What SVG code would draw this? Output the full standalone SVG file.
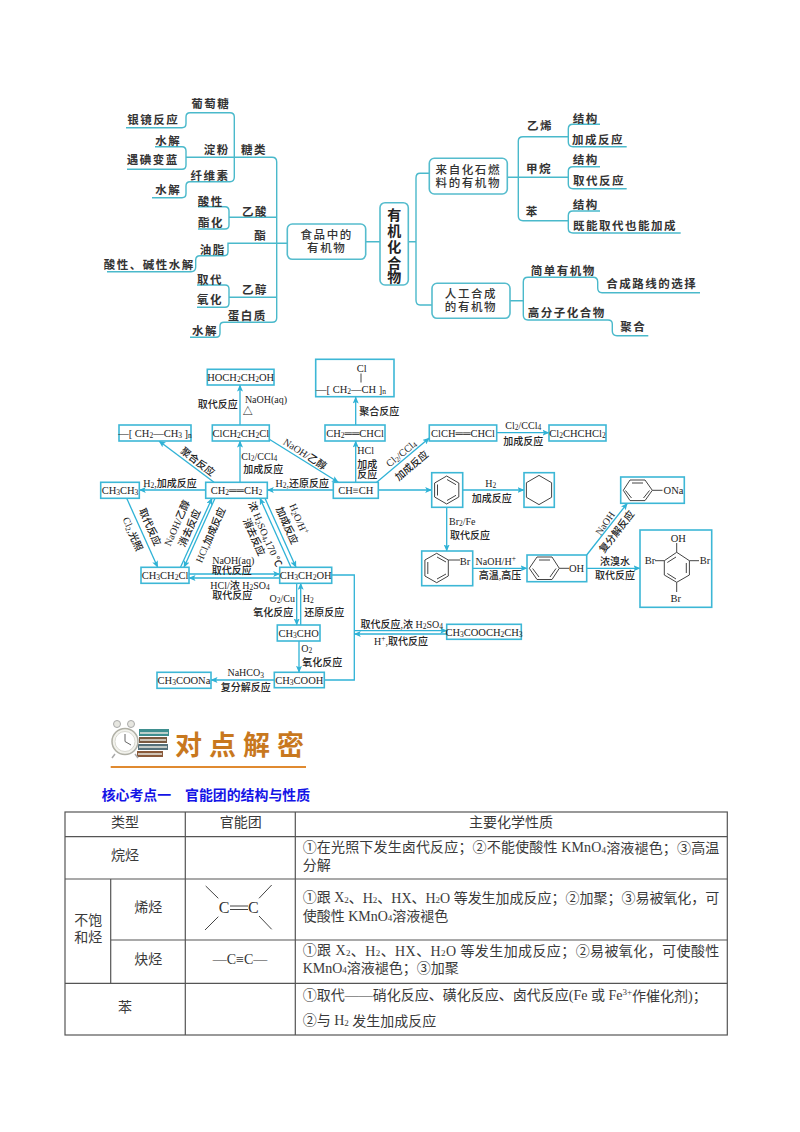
<svg xmlns="http://www.w3.org/2000/svg" width="800" height="1132" viewBox="0 0 800 1132">
<defs>
<marker id="a" markerUnits="userSpaceOnUse" markerWidth="7" markerHeight="6" refX="6.5" refY="3" orient="auto"><path d="M0 0L7 3L0 6L1.5 3z" fill="#2fb2d6"/></marker>
</defs>
<style>
text{font-family:"Liberation Serif","Noto Sans CJK SC",serif;fill:#222;dominant-baseline:central}
.c{text-anchor:middle}
.m{font-family:"Noto Sans CJK SC",sans-serif;font-size:11.5px;font-weight:700;letter-spacing:1.5px;text-anchor:middle;fill:#333}
.n{font-family:"Liberation Serif","Noto Sans CJK SC",sans-serif;font-size:11.5px;font-weight:500;letter-spacing:1.6px;text-anchor:middle;fill:#333}
.t{font-family:"Liberation Sans","Noto Sans CJK SC",sans-serif;font-size:14px;font-weight:700;text-anchor:middle;fill:#222}
.mm{fill:none;stroke:#4ab9cb;stroke-width:1.4}
.nb{fill:#fff;stroke:#55bccd;stroke-width:1.6}
.f{font-size:10.5px;text-anchor:middle}
.l{font-size:10px;text-anchor:middle;font-weight:500}
.b{fill:#fff;stroke:#3db7d6;stroke-width:1.6}
.r{fill:none;stroke:#2fb2d6;stroke-width:1.3;marker-end:url(#a)}
.p{fill:none;stroke:#2fb2d6;stroke-width:1.3}
.g{fill:none;stroke:#333;stroke-width:.9}
.s{font-size:7.5px}
.u{font-size:9px}
.h{font-size:14px;fill:#3a3a3a;text-anchor:middle}
.q{font-size:14px;fill:#3a3a3a}
.o{fill:none;stroke:#444;stroke-width:1}
.tb{fill:none;stroke:#555;stroke-width:1.2}
</style>

<g id="mindmap-connectors">
<path class="mm" d="M126 127.7H182Q186 127.7 186 123.5V117Q186 112.7 190 112.7H230Q234.3 112.7 234.3 117V177Q234.3 181.7 230 181.7H190Q186 181.7 186 186V193.5Q186 197.7 182 197.7H152"/>
<path class="mm" d="M155 146.7H182Q186 146.7 186 151V165Q186 169.3 182 169.3H127"/>
<path class="mm" d="M186 157.3H272Q276.7 157.3 276.7 162V318Q276.7 322.3 272 322.3H224Q220 322.3 220 326V333Q220 337.3 216 337.3H190"/>
<path class="mm" d="M198 206.7H225Q229 206.7 229 211V225Q229 229 225 229H198M229 217.3H276.7"/>
<path class="mm" d="M287.3 243.3H228V252Q228 255.7 224 255.7H200Q195.7 255.7 195.7 260V267Q195.7 271.7 191 271.7H107"/>
<path class="mm" d="M197 285H225Q229 285 229 289V303Q229 307.3 225 307.3H197M229 297.3H276.7"/>
<path class="mm" d="M365.7 241.7H381.7M408.3 241.7H416M429.3 173.3H420Q416 173.3 416 178V300Q416 305 420 305H432"/>
<path class="mm" d="M507.3 177.3H568.3M568 136.7H523Q518.3 136.7 518.3 141V216Q518.3 220.7 523 220.7H568.3"/>
<path class="mm" d="M600 124.3H573Q568.3 124.3 568.3 129V142Q568.3 146.7 573 146.7H626.7"/>
<path class="mm" d="M600 166.7H573Q568.3 166.7 568.3 171V184Q568.3 188.7 573 188.7H626.7"/>
<path class="mm" d="M600 211H573Q568.3 211 568.3 215.5V228.5Q568.3 233 573 233H680.7"/>
<path class="mm" d="M510 300.7H523.3M523.3 282Q523.3 277.3 528 277.3H593Q597.7 277.3 597.7 282V288Q597.7 292.7 602 292.7H700M523.3 282V315Q523.3 320 528 320H608Q612.3 320 612.3 324V331Q612.3 335.7 617 335.7H648.3"/>
</g>

<g id="mindmap-labels">
<text class="m" x="210.7" y="103.3">葡萄糖</text>
<text class="m" x="153.3" y="119">银镜反应</text>
<text class="m" x="168.3" y="140">水解</text>
<text class="m" x="216.7" y="149">淀粉</text>
<text class="m" x="254" y="149">糖类</text>
<text class="m" x="152.7" y="159.3">遇碘变蓝</text>
<text class="m" x="210" y="175">纤维素</text>
<text class="m" x="168.3" y="189">水解</text>
<text class="m" x="210.7" y="201">酸性</text>
<text class="m" x="255" y="210.7">乙酸</text>
<text class="m" x="211" y="221.7">酯化</text>
<text class="m" x="260.7" y="235">酯</text>
<text class="m" x="212.7" y="249">油脂</text>
<text class="m" x="149.3" y="264">酸性、碱性水解</text>
<text class="m" x="210" y="279">取代</text>
<text class="m" x="210" y="299.3">氧化</text>
<text class="m" x="255" y="289">乙醇</text>
<text class="m" x="247.3" y="315">蛋白质</text>
<text class="m" x="205" y="330">水解</text>
<text class="m" x="540" y="125">乙烯</text>
<text class="m" x="585.7" y="118.3">结构</text>
<text class="m" x="598" y="139.3">加成反应</text>
<text class="m" x="539" y="168">甲烷</text>
<text class="m" x="585.7" y="159.3">结构</text>
<text class="m" x="599" y="180">取代反应</text>
<text class="m" x="532.3" y="210.7">苯</text>
<text class="m" x="585.7" y="204">结构</text>
<text class="m" x="625" y="225">既能取代也能加成</text>
<text class="m" x="563.3" y="270">简单有机物</text>
<text class="m" x="651.7" y="282.7">合成路线的选择</text>
<text class="m" x="566.7" y="311.7">高分子化合物</text>
<text class="m" x="633.3" y="325.7">聚合</text>
</g>

<g id="node-food"><rect class="nb" x="287.3" y="224" width="78.4" height="35.3" rx="5"/><text class="n" x="326.7" y="235">食品中的</text><text class="n" x="326.7" y="248.3">有机物</text></g>
<g id="node-organic"><rect class="nb" x="380" y="202.7" width="28.3" height="82.3" rx="5"/><text class="t" x="394.3" y="215">有</text><text class="t" x="394.3" y="231">机</text><text class="t" x="394.3" y="247">化</text><text class="t" x="394.3" y="263">合</text><text class="t" x="394.3" y="277">物</text></g>
<g id="node-fossil"><rect class="nb" x="429.3" y="158.3" width="78" height="35.7" rx="5"/><text class="n" x="468.3" y="170">来自化石燃</text><text class="n" x="468.3" y="183.3">料的有机物</text></g>
<g id="node-synthetic"><rect class="nb" x="432" y="283.3" width="78" height="35" rx="5"/><text class="n" x="471" y="294">人工合成</text><text class="n" x="471" y="307.3">的有机物</text></g>

<g id="connectors">
<path class="r" d="M240 482.3V441"/>
<path class="r" d="M240 425V385"/>
<path class="r" d="M214 482.3L159 441"/>
<path class="r" d="M269.3 439.3L338.3 482.3"/>
<path class="r" d="M333.3 490H267.3"/>
<path class="r" d="M205.7 490H139.3"/>
<path class="r" d="M355.7 482.3V441"/>
<path class="r" d="M355.7 425V397"/>
<path class="r" d="M376.7 482.3L429.3 438"/>
<path class="r" d="M496.7 432.7H549"/>
<path class="r" d="M377.3 490H431.7"/>
<path class="r" d="M462.7 490H524"/>
<path class="r" d="M446.7 507.3V551"/>
<path class="r" d="M472.7 568.3H527"/>
<path class="r" d="M586.7 555L627.3 503.3"/>
<path class="r" d="M586.7 568.3H640"/>
<path class="r" d="M126.7 498.3L157.7 567.3"/>
<path class="r" d="M180.5 567.3L212 498.3"/>
<path class="r" d="M215 498.3L184 567.3"/>
<path class="r" d="M291 567.3L260 498.3"/>
<path class="r" d="M265 498.3L296 567.3"/>
<path class="r" d="M189 574H279.7"/>
<path class="r" d="M279.7 578H189"/>
<path class="r" d="M296.7 583.3V625"/>
<path class="r" d="M300.7 625V583.3"/>
<path class="r" d="M299 641V672.3"/>
<path class="r" d="M274.3 680H211"/>
<path class="p" d="M331.7 575H354.3V680H324.3"/>
<path class="r" d="M355 630.7H446.7"/>
<path class="r" d="M446.7 634H354.3"/>
</g>

<g id="node-hoch2ch2oh"><rect class="b" x="207.3" y="369.3" width="66.7" height="15.7"/><text class="f" x="240.7" y="377">HOCH<tspan class="s" dy="2">2</tspan><tspan dy="-2">CH</tspan><tspan class="s" dy="2">2</tspan><tspan dy="-2">OH</tspan></text></g>
<g id="node-pvc"><rect class="b" x="315.7" y="359.3" width="78.3" height="37.4"/><text class="f" x="361.7" y="368.3">Cl</text><path class="g" d="M361 373.5V382.5"/><text class="f" x="351" y="389.3">—[ CH<tspan class="s" dy="2">2</tspan><tspan dy="-2">—CH ]</tspan><tspan class="s" dy="2">n</tspan></text></g>
<g id="node-pe"><rect class="b" x="119" y="425" width="72" height="16"/><text class="f" x="155" y="433">—[ CH<tspan class="s" dy="2">2</tspan><tspan dy="-2">—CH</tspan><tspan class="s" dy="2">3</tspan><tspan dy="-2"> ]</tspan><tspan class="s" dy="2">n</tspan></text></g>
<g id="node-clch2ch2cl"><rect class="b" x="212.3" y="425" width="57" height="16"/><text class="f" x="240.8" y="433">ClCH<tspan class="s" dy="2">2</tspan><tspan dy="-2">CH</tspan><tspan class="s" dy="2">2</tspan><tspan dy="-2">Cl</tspan></text></g>
<g id="node-ch2chcl"><rect class="b" x="325" y="425" width="60" height="16"/><text class="f" x="355" y="433">CH<tspan class="s" dy="2">2</tspan><tspan dy="-2">══CHCl</tspan></text></g>
<g id="node-clchchcl"><rect class="b" x="429.3" y="425" width="67.4" height="16"/><text class="f" x="463" y="433">ClCH══CHCl</text></g>
<g id="node-cl2chchcl2"><rect class="b" x="549" y="425" width="57" height="16"/><text class="f" x="577.5" y="433">Cl<tspan class="s" dy="2">2</tspan><tspan dy="-2">CHCHCl</tspan><tspan class="s" dy="2">2</tspan></text></g>
<g id="node-ch3ch3"><rect class="b" x="100.7" y="482.3" width="38.6" height="16"/><text class="f" x="120" y="490.3">CH<tspan class="s" dy="2">3</tspan><tspan dy="-2">CH</tspan><tspan class="s" dy="2">3</tspan></text></g>
<g id="node-ch2ch2"><rect class="b" x="205.7" y="482.3" width="61.6" height="16"/><text class="f" x="236.5" y="490.3">CH<tspan class="s" dy="2">2</tspan><tspan dy="-2">══CH</tspan><tspan class="s" dy="2">2</tspan></text></g>
<g id="node-chch"><rect class="b" x="333.3" y="482.3" width="45" height="16"/><text class="f" x="355.8" y="490.3">CH≡CH</text></g>
<g id="node-benzene"><rect class="b" x="431.7" y="472.7" width="31" height="34.6"/><path class="o" d="M446.7 476L458.8 483V497L446.7 504L434.6 497V483zM447 479.5L456 484.7M437.5 484.5V495.5M447 500.5L456 495.3"/></g>
<g id="node-cyclohexane"><rect class="b" x="524" y="472.7" width="30.3" height="34.6"/><path class="o" d="M539 475.4L551.6 482.7V497.3L539 504.6L526.4 497.3V482.7z"/></g>
<g id="node-phona"><rect class="b" x="620.7" y="477" width="63.6" height="26.3"/><path class="o" d="M623.3 490.3L630 480H645L652.3 490.3L645 500.6H630zM632 483H643M649.5 490.5L643.5 498M631.5 498L625.5 490.5M652.3 490.3H662.5"/><text class="f" x="673.5" y="490">ONa</text></g>
<g id="node-phbr"><rect class="b" x="421.7" y="551" width="51" height="34.7"/><path class="o" d="M436.7 553.3L448.3 560V576L436.7 582.7L424.9 576V560zM437 557L446 562M427.8 562V574M437 579L446 574M448.3 560H460"/><text class="f" x="465" y="561">Br</text></g>
<g id="node-phoh"><rect class="b" x="527" y="555" width="59.7" height="26.7"/><path class="o" d="M529.3 568.3L537 557H552L559.3 568.3L552 579.5H537zM539 560H550M556 568.5L550 577M539 577L532.6 568.5M559.3 568.3H569"/><text class="f" x="576.5" y="568">OH</text></g>
<g id="node-tribromophenol"><rect class="b" x="640" y="530" width="71.7" height="77.3"/><path class="o" d="M676.7 552.3L689.4 560.7V575L676.7 582.3L664.3 575V560.7zM686.3 563V573M667.3 562.5L676 557M667.3 573.5L676 579M676.7 552.3V543M655 560.7H664.3M689.4 560.7H699M676.7 582.3V592"/><text class="f" x="678.3" y="538.3">OH</text><text class="f" x="650" y="560">Br</text><text class="f" x="705" y="560">Br</text><text class="f" x="675.7" y="598.3">Br</text></g>
<g id="node-ch3ch2cl"><rect class="b" x="141" y="567.3" width="48" height="16"/><text class="f" x="165" y="575.3">CH<tspan class="s" dy="2">3</tspan><tspan dy="-2">CH</tspan><tspan class="s" dy="2">2</tspan><tspan dy="-2">Cl</tspan></text></g>
<g id="node-ch3ch2oh"><rect class="b" x="279.7" y="567.3" width="52" height="16"/><text class="f" x="305.7" y="575.3">CH<tspan class="s" dy="2">3</tspan><tspan dy="-2">CH</tspan><tspan class="s" dy="2">2</tspan><tspan dy="-2">OH</tspan></text></g>
<g id="node-ch3cho"><rect class="b" x="277.3" y="625" width="42.7" height="16"/><text class="f" x="298.7" y="633">CH<tspan class="s" dy="2">3</tspan><tspan dy="-2">CHO</tspan></text></g>
<g id="node-ch3cooh"><rect class="b" x="274.3" y="672.3" width="50" height="15.4"/><text class="f" x="299.3" y="680">CH<tspan class="s" dy="2">3</tspan><tspan dy="-2">COOH</tspan></text></g>
<g id="node-ch3coona"><rect class="b" x="157" y="672.3" width="54" height="16"/><text class="f" x="184" y="680.3">CH<tspan class="s" dy="2">3</tspan><tspan dy="-2">COONa</tspan></text></g>
<g id="node-ester"><rect class="b" x="446.7" y="624.3" width="74.6" height="15"/><text class="f" x="484" y="632">CH<tspan class="s" dy="2">3</tspan><tspan dy="-2">COOCH</tspan><tspan class="s" dy="2">2</tspan><tspan dy="-2">CH</tspan><tspan class="s" dy="2">3</tspan></text></g>

<g id="reaction-labels">
<text class="l" x="217.7" y="404.3">取代反应</text>
<text class="l" x="266" y="399">NaOH(aq)</text>
<text class="l" x="247.7" y="411">△</text>
<text class="l" x="259.3" y="456">Cl<tspan class="s" dy="2">2</tspan><tspan dy="-2">/CCl</tspan><tspan class="s" dy="2">4</tspan></text>
<text class="l" x="263.3" y="469.3">加成反应</text>
<text class="l" transform="translate(197.7 461.7) rotate(38)">聚合反应</text>
<text class="l" transform="translate(305 454) rotate(33)">NaOH/乙醇</text>
<text class="l" x="302.3" y="483.3">H<tspan class="s" dy="2">2</tspan><tspan dy="-2">,还原反应</tspan></text>
<text class="l" x="170" y="483.3">H<tspan class="s" dy="2">2</tspan><tspan dy="-2">,加成反应</tspan></text>
<text class="l" x="365.7" y="450">HCl</text>
<text class="l" x="367.3" y="464.3">加成</text>
<text class="l" x="367.3" y="474.3">反应</text>
<text class="l" x="379.3" y="411.7">聚合反应</text>
<text class="l" transform="translate(401 453.3) rotate(-40)">Cl<tspan class="s" dy="2">2</tspan><tspan dy="-2">/CCl</tspan><tspan class="s" dy="2">4</tspan></text>
<text class="l" transform="translate(411.7 465.7) rotate(-40)">加成反应</text>
<text class="l" x="523.3" y="425">Cl<tspan class="s" dy="2">2</tspan><tspan dy="-2">/CCl</tspan><tspan class="s" dy="2">4</tspan></text>
<text class="l" x="523.3" y="441">加成反应</text>
<text class="l" x="490.7" y="483.3">H<tspan class="s" dy="2">2</tspan></text>
<text class="l" x="491.7" y="498.3">加成反应</text>
<text class="l" x="462.3" y="521">Br<tspan class="s" dy="2">2</tspan><tspan dy="-2">/Fe</tspan></text>
<text class="l" x="470" y="535">取代反应</text>
<text class="l" x="495.7" y="561">NaOH/H<tspan class="s" dy="-3">+</tspan></text>
<text class="l" x="500" y="575.7">高温,高压</text>
<text class="l" transform="translate(605 523.3) rotate(-55)">NaOH</text>
<text class="l" transform="translate(616.7 531.7) rotate(-52)">复分解反应</text>
<text class="l" x="615" y="561">浓溴水</text>
<text class="l" x="615" y="575.7">取代反应</text>
<text class="l" x="401.7" y="624">取代反应,浓 H<tspan class="s" dy="2">2</tspan><tspan dy="-2">SO</tspan><tspan class="s" dy="2">4</tspan></text>
<text class="l" x="401" y="641.3">H<tspan class="s" dy="-3">+</tspan><tspan dy="3">,取代反应</tspan></text>
<text class="l" x="233.3" y="560.7">NaOH(aq)</text>
<text class="l" x="231.7" y="570">取代反应</text>
<text class="l" x="240" y="585">HCl/浓 H<tspan class="s" dy="2">2</tspan><tspan dy="-2">SO</tspan><tspan class="s" dy="2">4</tspan></text>
<text class="l" x="232.3" y="595.3">取代反应</text>
<text class="l" x="282.3" y="598.3">O<tspan class="s" dy="2">2</tspan><tspan dy="-2">/Cu</tspan></text>
<text class="l" x="273.3" y="612.3">氧化反应</text>
<text class="l" x="308.3" y="598.3">H<tspan class="s" dy="2">2</tspan></text>
<text class="l" x="324.3" y="612.3">还原反应</text>
<text class="l" x="306.7" y="648.3">O<tspan class="s" dy="2">2</tspan></text>
<text class="l" x="322.3" y="662.7">氧化反应</text>
<text class="l" x="245.7" y="672.7">NaHCO<tspan class="s" dy="2">3</tspan></text>
<text class="l" x="245.7" y="687.7">复分解反应</text>
<text class="l" transform="translate(150 527) rotate(66)">取代反应</text>
<text class="l" transform="translate(133 534) rotate(66)">Cl<tspan class="s" dy="2">2</tspan><tspan dy="-2">,光照</tspan></text>
<text class="l" transform="translate(177 523) rotate(-66)">NaOH/乙醇</text>
<text class="l" transform="translate(189.5 528) rotate(-66)">消去反应</text>
<text class="l" transform="translate(210.5 535) rotate(-66)">HCl,加成反应</text>
<text class="l" transform="translate(265.5 534) rotate(66)">浓 H<tspan class="s" dy="2">2</tspan><tspan dy="-2">SO</tspan><tspan class="s" dy="2">4</tspan><tspan dy="-2">,170 ℃</tspan></text>
<text class="l" transform="translate(254 537) rotate(66)">消去反应</text>
<text class="l" transform="translate(299 519) rotate(66)">H<tspan class="s" dy="2">2</tspan><tspan dy="-2">O/H</tspan><tspan class="s" dy="-3">+</tspan></text>
<text class="l" transform="translate(287 525.5) rotate(66)">加成反应</text>
</g>

<g id="section-banner">
<g id="books">
<rect x="139" y="729" width="30" height="7" fill="#3f8f8f"/>
<rect x="139" y="737" width="28" height="6" fill="#7a5a40"/>
<rect x="138" y="744" width="30" height="6" fill="#54707a"/>
<rect x="137" y="751" width="26" height="6" fill="#8a5a3a"/>
<path d="M140 733H168M140 740H166M139 747H167M138 754H162" stroke="#e8e8e0" stroke-width="1.5" fill="none"/>
</g>
<g id="clock">
<circle cx="125" cy="741.5" r="13" fill="#f2f2ec" stroke="#b0b0a6" stroke-width="1.5"/>
<circle cx="125" cy="741.5" r="10" fill="#fff" stroke="#d0d0c8" stroke-width=".8"/>
<path d="M125 741.5V734M125 741.5L131 745" stroke="#666" stroke-width="1" fill="none"/>
<circle cx="117" cy="724" r="3.5" fill="#e6e6e0" stroke="#aaa"/>
<circle cx="131" cy="724" r="3.5" fill="#e6e6e0" stroke="#aaa"/>
<path d="M115 754L112 758M135 754L138 758" stroke="#aaa" stroke-width="1.5"/>
</g>
<text x="175" y="743" font-size="27" font-weight="700" letter-spacing="7" style="font-family:'Noto Sans CJK SC',sans-serif;fill:#c8781e">对点解密</text>
<path d="M110.7 767H306" stroke="#e08a30" stroke-width="2" fill="none"/>
</g>
<text id="heading" x="101.7" y="794.3" font-size="13.9" font-weight="700" style="font-family:'Noto Sans CJK SC',sans-serif;fill:#1414e6">核心考点一　官能团的结构与性质</text>

<g id="table">
<rect class="tb" x="65" y="812" width="662.3" height="223"/>
<path class="tb" d="M65 836.7H727.3M65 879H727.3M110.7 940H727.3M65 983.3H727.3M185.3 812V1035M295.3 812V1035M110.7 879V983.3"/>
<text class="h" x="125" y="822.3">类型</text>
<text class="h" x="240.7" y="822.3">官能团</text>
<text class="h" x="511" y="822.3">主要化学性质</text>
<text class="h" x="125" y="855.7">烷烃</text>
<text class="h" x="88.3" y="920.7">不饱</text>
<text class="h" x="88.3" y="937.3">和烃</text>
<text class="h" x="148.3" y="907.3">烯烃</text>
<text class="h" x="148.3" y="959.3">炔烃</text>
<text class="h" x="125" y="1007.3">苯</text>
<g id="alkene-group">
<path d="M205.7 886L218.3 898.3M271.7 885L259 898.3M205 930L218.3 916.7M271.7 929.3L259 916M230 906H248M230 909.5H248" stroke="#444" stroke-width="1" fill="none"/>
<text x="224" y="907.7" class="c" style="font-size:16px;fill:#333">C</text>
<text x="253.3" y="907.7" class="c" style="font-size:16px;fill:#333">C</text>
</g>
<text id="alkyne-group" x="240" y="959.3" class="c" style="font-size:14px;fill:#333">—C≡C—</text>
<text class="q" x="302.7" y="847.7" textLength="416.6">①在光照下发生卤代反应；②不能使酸性 KMnO<tspan class="u" dy="2">4</tspan><tspan dy="-2">溶液褪色；③高温</tspan></text>
<text class="q" x="302.7" y="865">分解</text>
<text class="q" x="302.7" y="897.7" textLength="416.6">①跟 X<tspan class="u" dy="2">2</tspan><tspan dy="-2">、H</tspan><tspan class="u" dy="2">2</tspan><tspan dy="-2">、HX、H</tspan><tspan class="u" dy="2">2</tspan><tspan dy="-2">O 等发生加成反应；②加聚；③易被氧化，可</tspan></text>
<text class="q" x="302.7" y="916">使酸性 KMnO<tspan class="u" dy="2">4</tspan><tspan dy="-2">溶液褪色</tspan></text>
<text class="q" x="302.7" y="950.7" textLength="416.6">①跟 X<tspan class="u" dy="2">2</tspan><tspan dy="-2">、H</tspan><tspan class="u" dy="2">2</tspan><tspan dy="-2">、HX、H</tspan><tspan class="u" dy="2">2</tspan><tspan dy="-2">O 等发生加成反应；②易被氧化，可使酸性</tspan></text>
<text class="q" x="302.7" y="968.3">KMnO<tspan class="u" dy="2">4</tspan><tspan dy="-2">溶液褪色；③加聚</tspan></text>
<text class="q" x="302.7" y="995.7" textLength="404">①取代——硝化反应、磺化反应、卤代反应(Fe 或 Fe<tspan class="u" dy="-4">3+</tspan><tspan dy="4">作催化剂)；</tspan></text>
<text class="q" x="302.7" y="1020.7">②与 H<tspan class="u" dy="2">2</tspan><tspan dy="-2"> 发生加成反应</tspan></text>
</g>
</svg>
